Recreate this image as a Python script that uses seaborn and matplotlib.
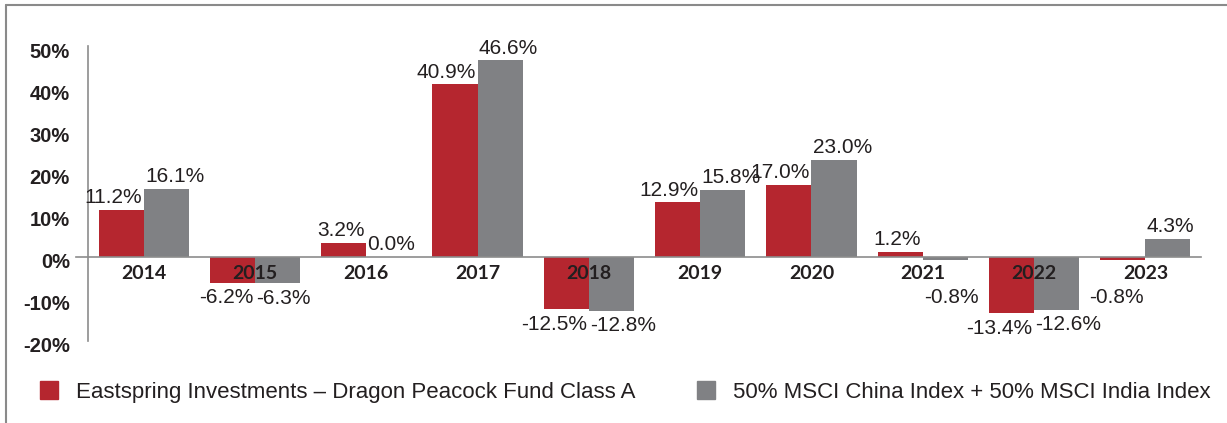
import numpy as np
import pandas as pd
import matplotlib.pyplot as plt
import matplotlib.transforms as mtransforms
from matplotlib.lines import Line2D
import seaborn as sns

years = ['2014', '2015', '2016', '2017', '2018', '2019', '2020', '2021', '2022', '2023']
fund = [11.2, -6.2, 3.2, 40.9, -12.5, 12.9, 17.0, 1.2, -13.4, -0.8]
index = [16.1, -6.3, 0.0, 46.6, -12.8, 15.8, 23.0, -0.8, -12.6, 4.3]
fund_name = 'Eastspring Investments \u2013 Dragon Peacock Fund Class A'
index_name = '50% MSCI China Index + 50% MSCI India Index'
yticks = [-20, -10, 0, 10, 20, 30, 40, 50]

red = '#b5262f'
grey = '#808184'
axis_grey = '#8c8c8c'
text_col = '#231f20'

df = pd.DataFrame({
    'year': years * 2,
    'value': fund + index,
    'series': [fund_name] * len(years) + [index_name] * len(years),
})

sns.set_style('white')
plt.rcParams['font.family'] = ['Liberation Sans', 'DejaVu Sans']

fig = plt.figure(figsize=(12.27, 4.23), dpi=100)
ax = fig.add_axes([0.0717, 0.1939, 0.9071, 0.6970])
sns.barplot(data=df, x='year', y='value', hue='series', palette=[red, grey],
            width=0.81, saturation=1, linewidth=0, edgecolor='none', ax=ax, legend=False)
ax.set_axisbelow(False)
ax.set_xlim(-0.5, len(years) - 0.5)
ax.set_ylim(-20, 50)
ax.set_xlabel('')
ax.set_ylabel('')

# spines
for s in ['top', 'right']:
    ax.spines[s].set_visible(False)
ax.spines['bottom'].set_position(('data', 0))
ax.spines['bottom'].set_bounds(-0.608, len(years) - 0.5)
for s in ['left', 'bottom']:
    ax.spines[s].set_color(axis_grey)
    ax.spines[s].set_linewidth(1.2)

# y ticks
ax.set_yticks(yticks)
ax.set_yticklabels([f'{t}%' for t in yticks], fontsize=14.5, fontweight='bold', color=text_col)
ax.tick_params(axis='y', length=0, pad=13)
offset = mtransforms.ScaledTranslation(0, -4 / 100, fig.dpi_scale_trans)
for lab in ax.get_yticklabels():
    lab.set_transform(lab.get_transform() + offset)

# x ticks: year labels under the zero line, small ticks between groups
ax.set_xticks(range(len(years)))
ax.set_xticklabels(years, fontsize=14, fontweight='bold', color=text_col, family=['Lato', 'DejaVu Sans'])
ax.tick_params(axis='x', which='major', length=0, pad=6)
ax.set_xticks(np.arange(len(years) + 1) - 0.5, minor=True)
ax.tick_params(axis='x', which='minor', length=5, width=1.2, color=axis_grey, direction='out')

# value labels: fund label ends at the group centre, index label starts there
for i, cont in enumerate(ax.containers):
    for j, bar in enumerate(cont):
        v = bar.get_height() if bar.get_y() >= 0 else bar.get_y()
        dx = -1 if i == 0 else 1
        ha = 'right' if i == 0 else 'left'
        if v >= 0:
            ax.annotate(f'{v:.1f}%', (j, v), xytext=(dx, 2), textcoords='offset points',
                        ha=ha, va='bottom', fontsize=15, color=text_col)
        else:
            ax.annotate(f'{v:.1f}%', (j, min(v, -6.0)), xytext=(dx, -4), textcoords='offset points',
                        ha=ha, va='top', fontsize=15, color=text_col)

# legend
handles = [plt.Rectangle((0, 0), 1, 1, color=red), plt.Rectangle((0, 0), 1, 1, color=grey)]
fig.legend(handles, [fund_name, index_name], ncol=2, frameon=False,
           loc='center left', bbox_to_anchor=(40 / 1227, 0.073),
           fontsize=16, handlelength=0.81, handleheight=0.81,
           handletextpad=0.81, columnspacing=2.78, borderpad=0, borderaxespad=0,
           labelcolor=text_col)

# outer frame lines (top and left)
fig.add_artist(Line2D([6 / 1227, 1], [1 - 5 / 423, 1 - 5 / 423], color='#8a8a8a', lw=1.5))
fig.add_artist(Line2D([6 / 1227, 6 / 1227], [0, 1 - 5 / 423], color='#8a8a8a', lw=1.5))

fig.savefig('out.png', dpi=100)
